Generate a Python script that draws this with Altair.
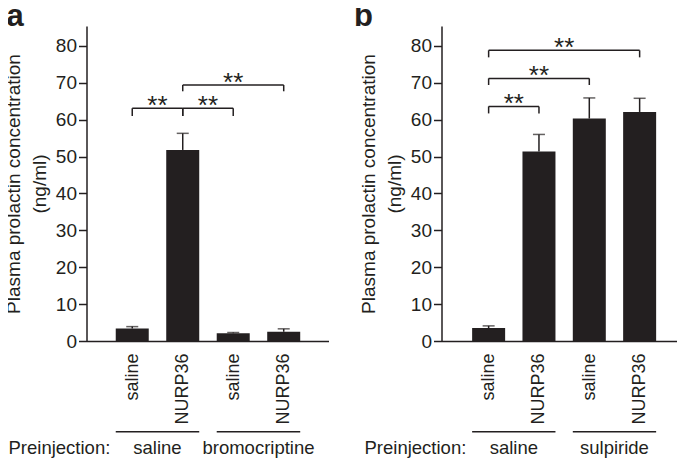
import json
import altair as alt
import pandas as pd

INK = "#231f20"
FONT = "Liberation Sans"

# ---- data ----
treatments = ["saline", "NURP36", "saline", "NURP36"]
positions = [1, 2, 3, 4]

a_groups = ["saline", "bromocriptine"]
a_means = [3.4, 51.8, 2.1, 2.5]
a_upper = [3.9, 56.3, 2.3, 3.3]
a_br_from = [1, 2, 2]
a_br_to = [2, 3, 4]
a_br_top = [63.1, 63.1, 69.4]
a_br_tip = [61.0, 61.0, 67.7]
a_sig = ["**", "**", "**"]

b_groups = ["saline", "sulpiride"]
b_means = [3.5, 51.4, 60.3, 62.1]
b_upper = [4.1, 56.0, 65.9, 65.8]
b_br_from = [1, 1, 1]
b_br_to = [2, 3, 4]
b_br_top = [63.6, 71.2, 78.8]
b_br_tip = [61.7, 69.4, 76.9]
b_sig = ["**", "**", "**"]

y_ticks = [0, 10, 20, 30, 40, 50, 60, 70, 80]
y_max = 85.4
y_title = ["Plasma prolactin concentration", "(ng/ml)"]
preinjection = "Preinjection:"


def panel(letter, letter_x, groups, means, upper, bfrom, bto, btop, btip, sig,
          xdomain, width, pre_x):
    bars = pd.DataFrame({"pos": positions, "treat": treatments,
                         "mean": means, "upper": upper})
    xs = alt.Scale(domain=xdomain, nice=False, zero=False)
    ys = alt.Scale(domain=[0, y_max], nice=False, zero=True)
    label_expr = json.dumps(treatments) + "[datum.value - 1]"
    xaxis = alt.Axis(
        values=positions, labelExpr=label_expr, labelAngle=270,
        labelAlign="right", labelBaseline="middle", labelPadding=12,
        ticks=False, tickSize=0, grid=False, labelFlush=False,
        labelOverlap=False, labelFontSize=18, labelColor=INK, labelFont=FONT,
        domainColor=INK, domainWidth=1.5)
    yaxis = alt.Axis(
        values=y_ticks, grid=False, tickSize=8, tickWidth=1.5, tickColor=INK,
        domainColor=INK, domainWidth=1.5, labelFontSize=19, labelColor=INK,
        labelFont=FONT, labelPadding=2, labelOverlap=False,
        titleFontSize=19, titleFontWeight="normal", titleColor=INK,
        titleFont=FONT, titleLineHeight=26, titlePadding=6)

    def X(f):
        return alt.X(f, scale=xs, title=None, axis=xaxis)

    def Y(f):
        return alt.Y(f, scale=ys, title=y_title, axis=yaxis)

    base = alt.Chart(bars)
    bar = base.mark_bar(width=33, color=INK).encode(x=X("pos:Q"), y=Y("mean:Q"))
    err = base.mark_rule(color=INK, strokeWidth=1.5).encode(
        x=X("pos:Q"), y=Y("mean:Q"), y2="upper:Q")
    cap = base.mark_tick(color=INK, size=12, thickness=1.5,
                         orient="horizontal").encode(x=X("pos:Q"), y=Y("upper:Q"))

    br = pd.DataFrame({"x1": bfrom, "x2": bto, "top": btop, "tip": btip,
                       "sig": sig})
    tips = pd.DataFrame({"pos": bfrom + bto, "top": btop + btop,
                         "tip": btip + btip})
    hbr = alt.Chart(br).mark_rule(color=INK, strokeWidth=1.5).encode(
        x=X("x1:Q"), x2="x2:Q", y=Y("top:Q"))
    vbr = alt.Chart(tips).mark_rule(color=INK, strokeWidth=1.5).encode(
        x=X("pos:Q"), y=Y("top:Q"), y2="tip:Q")
    stars = alt.Chart(br).transform_calculate(
        mid="(datum.x1 + datum.x2) / 2").mark_text(
        fontSize=26, font=FONT, color=INK, baseline="alphabetic", dy=6).encode(
        x=X("mid:Q"), y=Y("top:Q"), text="sig:N")

    grp = pd.DataFrame({"lo": [1, 3], "hi": [2, 4], "name": groups})
    uline = alt.Chart(grp).mark_rule(color=INK, strokeWidth=1.5,
                                     xOffset=-16.5, x2Offset=16.5).encode(
        x=X("lo:Q"), x2="hi:Q", y=alt.value(405.7))
    glab = alt.Chart(grp).transform_calculate(
        mid="(datum.lo + datum.hi) / 2").mark_text(
        fontSize=18.5, font=FONT, color=INK, baseline="alphabetic").encode(
        x=X("mid:Q"), y=alt.value(428), text="name:N")

    pre = alt.Chart(pd.DataFrame({"t": [preinjection]})).mark_text(
        fontSize=18.5, font=FONT, color=INK, align="left",
        baseline="alphabetic").encode(
        x=alt.value(pre_x), y=alt.value(428), text="t:N")
    let = alt.Chart(pd.DataFrame({"t": [letter]})).mark_text(
        fontSize=31, font=FONT, fontWeight="bold", color=INK, align="left",
        baseline="alphabetic").encode(
        x=alt.value(letter_x), y=alt.value(0), text="t:N")

    return alt.layer(bar, err, cap, hbr, vbr, stars, uline, glab, pre, let
                     ).properties(width=width, height=315)


pa = panel("a", -80, a_groups, a_means, a_upper, a_br_from, a_br_to,
           a_br_top, a_br_tip, a_sig, [0.193, 4.788], 242, -78)
pb = panel("b", -87.5, b_groups, b_means, b_upper, b_br_from, b_br_to,
           b_br_top, b_br_tip, b_sig, [0.163, 4.633], 235, -77)

chart = alt.hconcat(pa, pb, spacing=25).properties(
    padding={"left": -4.5, "top": -7, "right": 0, "bottom": 0}
).configure(font=FONT).configure_view(stroke=None)

chart.save("out.html", embed_options={"renderer": "svg", "actions": False})
